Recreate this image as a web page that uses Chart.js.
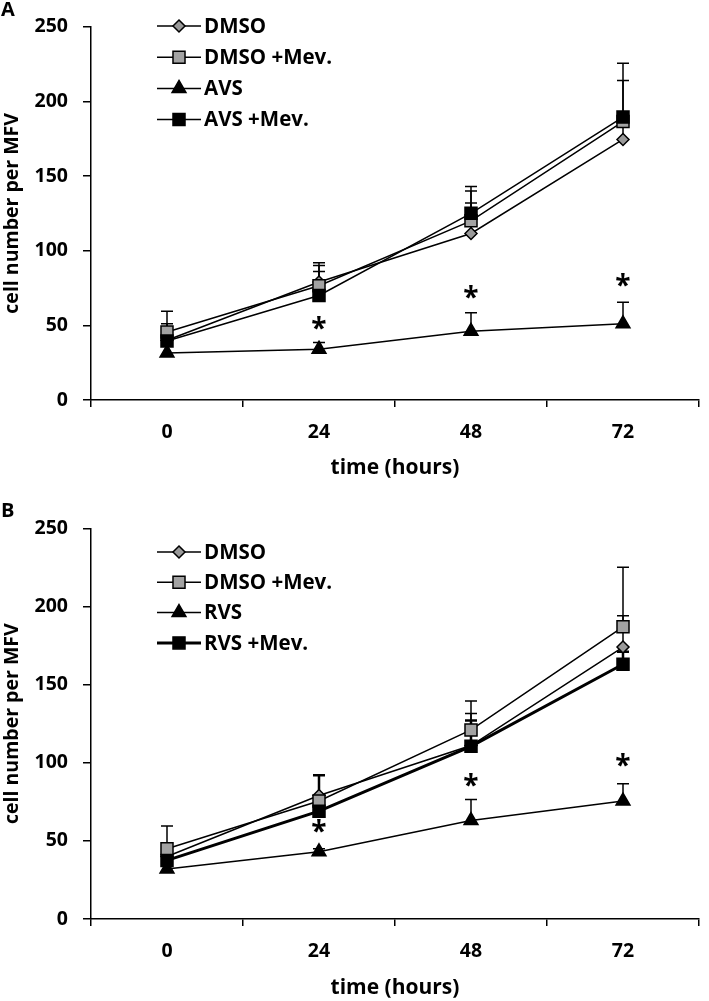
<!DOCTYPE html>
<html>
<head>
<meta charset="utf-8">
<script src="https://cdn.jsdelivr.net/npm/chart.js@4.4.0/dist/chart.umd.min.js"></script>
<style>
  html, body { margin: 0; padding: 0; background: #fff; }
  .panel { position: relative; width: 709px; }
  #panelA { height: 500px; }
  #panelB { height: 501px; }
</style>
</head>
<body>
<div class="panel" id="panelA"><canvas id="chartA"></canvas></div>
<div class="panel" id="panelB"><canvas id="chartB"></canvas></div>
<script>
// --- data ---
const hours = ['0', '24', '48', '72'];
const yMin = 0, yMax = 250, yStep = 50;

// panel A
const aLabels = ['DMSO', 'DMSO +Mev.', 'AVS', 'AVS +Mev.'];
const aDmso    = [40, 79, 111.5, 174.5];
const aDmsoMev = [45.5, 76.5, 120, 186.5];
const aAvs     = [31.5, 34, 46, 51];
const aAvsMev  = [39.5, 70, 125, 189.5];
const aDmsoErr    = [6, 11, 20.5, 12];
const aDmsoMevErr = [14, 15.5, 23, 39];
const aAvsErr     = [0, 4.5, 12.5, 14.5];
const aAvsMevErr  = [11.5, 16, 15, 24.5];
const aStars = [null, 51.5, 72, 80.5];

// panel B
const bLabels = ['DMSO', 'DMSO +Mev.', 'RVS', 'RVS +Mev.'];
const bDmso    = [40, 79, 111, 174];
const bDmsoMev = [45, 75.5, 121, 187];
const bRvs     = [32, 43, 63, 75.5];
const bRvsMev  = [37.5, 69, 110.5, 163];
const bDmsoErr    = [6, 13, 20.5, 20];
const bDmsoMevErr = [14.5, 16.5, 18.5, 38];
const bRvsErr     = [0, 2, 13.5, 11];
const bRvsMevErr  = [5, 23, 16.5, 8];
const bStars = [null, 59.5, 89, 102];

const FONT = "'Open Sans', 'DejaVu Sans', sans-serif";

const styles = [
  { pointStyle: 'rectRot', pointRadius: 6, pointBackgroundColor: '#9a9a9a' },
  { pointStyle: 'rect', pointRadius: 8.5, pointBackgroundColor: '#a3a3a3' },
  { pointStyle: 'triangle', pointRadius: 8, pointBackgroundColor: '#000' },
  { pointStyle: 'rect', pointRadius: 8.5, pointBackgroundColor: '#000' }
];

function makeDatasets(labels, series, errs, lastWidth) {
  return series.map((s, i) => Object.assign({
    label: labels[i],
    data: s,
    errors: errs[i],
    borderColor: '#000',
    borderWidth: i === 3 ? lastWidth : 1.5,
    pointBorderColor: '#000',
    pointBorderWidth: 1.5,
    pointHoverRadius: styles[i].pointRadius,
    fill: false,
    tension: 0,
    order: 3 - i
  }, styles[i]));
}

// marker shapes for the hand-drawn legend (same geometry as Chart.js)
function marker(ctx, style, r, x, y) {
  ctx.beginPath();
  if (style === 'rect') {
    const s = Math.SQRT1_2 * r;
    ctx.rect(x - s, y - s, 2 * s, 2 * s);
  } else if (style === 'rectRot') {
    ctx.moveTo(x, y - r); ctx.lineTo(x + r, y); ctx.lineTo(x, y + r); ctx.lineTo(x - r, y);
    ctx.closePath();
  } else {
    for (let k = 0; k < 3; k++) {
      const a = -Math.PI / 2 + k * 2 * Math.PI / 3;
      const px = x + Math.cos(a) * r, py = y + Math.sin(a) * r;
      k ? ctx.lineTo(px, py) : ctx.moveTo(px, py);
    }
    ctx.closePath();
  }
  ctx.fill();
  ctx.stroke();
}

const extras = {
  id: 'extras',
  beforeDatasetsDraw(chart) {
    // upward error bars
    const ctx = chart.ctx, y = chart.scales.y;
    ctx.save();
    ctx.strokeStyle = '#000';
    chart.data.datasets.forEach((ds, i) => {
      const meta = chart.getDatasetMeta(i);
      ctx.lineWidth = ds.borderWidth > 2 ? 2.5 : 1.5;
      ds.data.forEach((v, j) => {
        const e = ds.errors[j];
        if (!e) return;
        const px = meta.data[j].x, py = meta.data[j].y, top = y.getPixelForValue(v + e);
        ctx.beginPath();
        ctx.moveTo(px, py); ctx.lineTo(px, top);
        ctx.moveTo(px - 6, top); ctx.lineTo(px + 6, top);
        ctx.stroke();
      });
    });
    ctx.restore();
  },
  afterDraw(chart) {
    const ctx = chart.ctx, o = chart.options.plugins.extras;
    const x = chart.scales.x, y = chart.scales.y;
    ctx.save();
    ctx.fillStyle = '#000';
    // significance stars
    ctx.font = "bold 28px " + FONT;
    ctx.textAlign = 'center';
    ctx.textBaseline = 'alphabetic';
    const m = ctx.measureText('*');
    const mid = (m.actualBoundingBoxAscent - m.actualBoundingBoxDescent) / 2;
    o.stars.forEach((v, j) => {
      if (v == null) return;
      ctx.fillText('*', x.getPixelForValue(j), y.getPixelForValue(v) + mid);
    });
    // legend
    ctx.font = "bold 20.5px " + FONT;
    ctx.textAlign = 'left';
    ctx.textBaseline = 'middle';
    chart.data.datasets.forEach((ds, i) => {
      const ry = o.legendTop + i * o.legendStep;
      ctx.strokeStyle = '#000';
      ctx.lineWidth = ds.borderWidth;
      ctx.beginPath();
      ctx.moveTo(157, ry); ctx.lineTo(201, ry);
      ctx.stroke();
      ctx.lineWidth = 1.5;
      ctx.fillStyle = ds.pointBackgroundColor;
      marker(ctx, ds.pointStyle, ds.pointRadius, 179, ry);
      ctx.fillStyle = '#000';
      ctx.fillText(ds.label, 204, ry + 1);
    });
    // panel letter
    ctx.font = "bold 20px " + FONT;
    ctx.fillText(o.letter, 1, o.letterY);
    ctx.restore();
  }
};

function makeChart(id, labels, series, errs, stars, opt) {
  return new Chart(document.getElementById(id), {
    type: 'line',
    data: { labels: hours, datasets: makeDatasets(labels, series, errs, opt.lastWidth) },
    plugins: [extras],
    options: {
      responsive: true,
      maintainAspectRatio: false,
      animation: false,
      devicePixelRatio: 1,
      layout: { padding: { top: opt.top, right: opt.right, left: 0, bottom: 0 } },
      plugins: {
        legend: { display: false },
        tooltip: { enabled: false },
        extras: { stars: stars, letter: opt.letter, letterY: opt.letterY,
                  legendTop: opt.legendTop, legendStep: opt.legendStep }
      },
      scales: {
        x: {
          offset: true,
          grid: { offset: true, drawOnChartArea: false, tickLength: 7, color: '#000', lineWidth: 1.5 },
          border: { color: '#000', width: 1.5 },
          ticks: { color: '#000', padding: 14, font: { family: FONT, size: 19.5, weight: 'bold' } },
          title: { display: true, text: 'time (hours)', color: '#000',
                   font: { family: FONT, size: 21, weight: 'bold' },
                   padding: { top: 0, bottom: opt.titlePad } },
          afterFit: s => { s.height = opt.xHeight; }
        },
        y: {
          min: yMin, max: yMax,
          grid: { drawOnChartArea: false, tickLength: 8, color: '#000', lineWidth: 1.5 },
          border: { color: '#000', width: 1.5 },
          ticks: { stepSize: yStep, color: '#000', padding: 15, font: { family: FONT, size: 19.5, weight: 'bold' } },
          title: { display: true, text: 'cell number per MFV', color: '#000',
                   font: { family: FONT, size: 19.5, weight: 'bold' },
                   padding: { top: 1, bottom: 0 } },
          afterFit: s => { s.width = 91; }
        }
      }
    }
  });
}

makeChart('chartA', aLabels, [aDmso, aDmsoMev, aAvs, aAvsMev],
  [aDmsoErr, aDmsoMevErr, aAvsErr, aAvsMevErr], aStars,
  { top: 9.5, right: 2, xHeight: 100, titlePad: 19, lastWidth: 1.5,
    letter: 'A', letterY: 10, legendTop: 26, legendStep: 31.2 });

makeChart('chartB', bLabels, [bDmso, bDmsoMev, bRvs, bRvsMev],
  [bDmsoErr, bDmsoMevErr, bRvsErr, bRvsMevErr], bStars,
  { top: 28.3, right: 6, xHeight: 82, titlePad: 0, lastWidth: 3,
    letter: 'B', letterY: 11.5, legendTop: 52, legendStep: 30.3 });
</script>
</body>
</html>
